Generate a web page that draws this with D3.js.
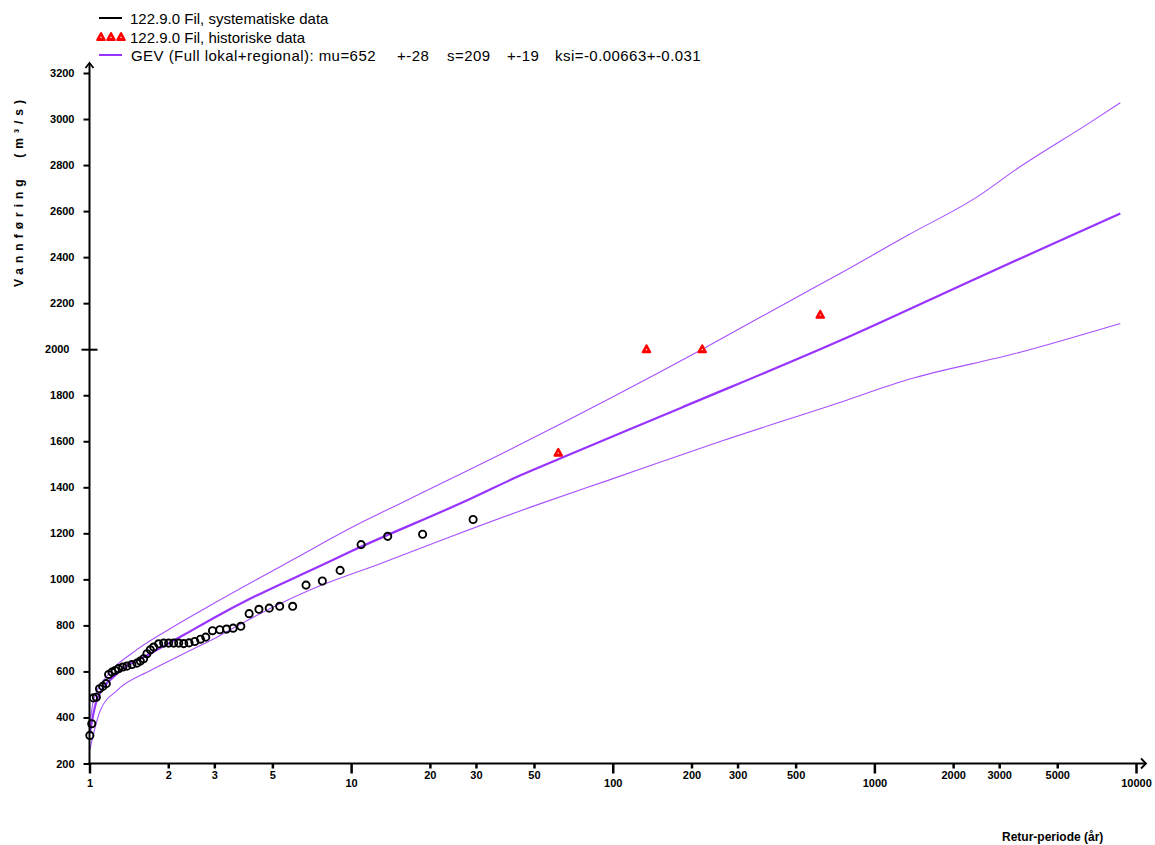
<!DOCTYPE html>
<html><head><meta charset="utf-8">
<script src="https://cdn.jsdelivr.net/npm/d3@7"></script>
<style>
html,body{margin:0;padding:0;background:#fff;}
svg{display:block;}
text{font-family:"Liberation Sans",Arial,Helvetica,sans-serif;}
.tickl{font-size:11px;font-weight:bold;fill:#000;}
.leg{font-size:15px;fill:#000;}
.ttl{font-size:12px;font-weight:bold;fill:#000;}
</style></head><body>
<svg id="chart" width="1155" height="845"></svg>
<script>
// ---- data ----
const xTickValues = [1,2,3,5,10,20,30,50,100,200,300,500,1000,2000,3000,5000,10000];
const xMajorTicks = [1,10,100,1000,10000];
const yTickValues = [200,400,600,800,1000,1200,1400,1600,1800,2000,2200,2400,2600,2800,3000,3200];

// GEV fitted curve (return period T, discharge Q)
const gevT = [1.002,1.066,1.272,1.709,2.29,3.07,4.0,7.6,10,28.6,44.4,61.9,182,748,2500,8710];
const gevQ = [329,474,590,677,758,840,909,1058,1122,1350,1452,1522,1745,2040,2312,2590];

// upper confidence band
const upperT = [1.002,1.036,1.2,1.474,1.98,2.98,4.48,6.0,10,16.35,44.4,220,481,748,1346,2496,3451,6594,8710];
const upperQ = [360,474,597,684,778,895,1007,1086,1224,1344,1587,2000,2213,2332,2496,2665,2778,2981,3071];

// lower confidence band
const lowerT = [1.002,1.099,1.272,1.709,2.29,3.07,4.12,7.17,12.9,23.3,53.0,95.9,259,748,1346,3451,8710];
const lowerQ = [257,430,517,604,677,749,829,960,1068,1180,1329,1430,1600,1771,1868,1981,2112];

// systematic data (plotting positions)
const sysT = [1.003,1.02,1.035,1.062,1.092,1.124,1.159,1.183,1.218,1.254,1.291,1.341,1.390,1.452,1.518,1.564,1.610,1.658,1.708,1.759,1.838,1.921,2.007,2.098,2.193,2.292,2.402,2.526,2.656,2.782,2.952,3.148,3.341,3.540,3.788,4.076,4.442,4.864,5.332,5.978,6.724,7.763,9.077,10.92,13.80,18.76,29.26];
const sysQ = [322,373,485,488,525,535,547,587,597,604,612,619,623,630,636,645,655,677,694,706,720,723,723,723,723,721,724,730,740,749,777,781,784,788,796,851,870,875,883,883,975,993,1039,1151,1187,1196,1260];

// historical data
const histT = [61.9,134.6,219.8,621];
const histQ = [1550,2000,2000,2150];

const legendLabels = [
  ["122.9.0 Fil, systematiske data"],
  ["122.9.0 Fil, historiske data"],
  ["GEV (Full lokal+regional): mu=652", "+-28", "s=209", "+-19", "ksi=-0.00663+-0.031"]
];
const legendGevOffsets = [1, 267, 317, 377, 425];
const xTitle = "Retur-periode (år)";
const yTitle = "Vannføring  (m³/s)";

// ---- drawing ----
const svg = d3.select("#chart");
const x = d3.scaleLog().domain([1, 10000]).range([89.5, 1136]);
const y = d3.scaleLinear().domain([200, 3200]).range([763.5, 73]);
const purple = "#9933ff";

// curves
const zip = (a, b) => a.map((t, i) => [t, b[i]]);
const line = d3.line().x(d => x(d[0])).y(d => y(d[1])).curve(d3.curveMonotoneX);
svg.append("path").datum(zip(upperT, upperQ)).attr("d", line)
  .attr("fill", "none").attr("stroke", purple).attr("stroke-width", 1.1).attr("stroke-opacity", 0.85);
svg.append("path").datum(zip(lowerT, lowerQ)).attr("d", line)
  .attr("fill", "none").attr("stroke", purple).attr("stroke-width", 1.1).attr("stroke-opacity", 0.85);
svg.append("path").datum(zip(gevT, gevQ)).attr("d", line)
  .attr("fill", "none").attr("stroke", purple).attr("stroke-width", 2.2);

// systematic points
svg.append("g").selectAll("circle").data(zip(sysT, sysQ)).join("circle")
  .attr("cx", d => x(d[0])).attr("cy", d => y(d[1])).attr("r", 3.6)
  .attr("fill", "none").attr("stroke", "#000").attr("stroke-width", 1.9);

// historical markers
const histMarker = "M0,-4 L3.8,3 L-3.8,3 Z";
function drawHist(g, cx, cy) {
  g.append("path").attr("d", histMarker).attr("transform", `translate(${cx},${cy})`)
    .attr("fill", "#ff0000").attr("stroke", "#ff0000").attr("stroke-width", 2).attr("stroke-linejoin", "round");
  g.append("rect").attr("x", cx - 0.6).attr("y", cy - 0.2).attr("width", 1.2).attr("height", 1.2).attr("fill", "#fff");
}
const hg = svg.append("g");
zip(histT, histQ).forEach(d => drawHist(hg, x(d[0]), y(d[1])));

// x axis
const xAxis = d3.axisBottom(x).tickValues(xTickValues).tickFormat(d3.format("d"))
  .tickSizeInner(5).tickSizeOuter(0).tickPadding(3);
const gx = svg.append("g").attr("transform", `translate(0,${y(200)})`).call(xAxis)
  .attr("font-size", null).attr("font-family", null);
gx.select(".domain").remove();
gx.selectAll(".tick line").attr("stroke", "#000").attr("stroke-width", 2.5)
  .attr("y2", d => xMajorTicks.includes(d) ? 10 : 5);
gx.selectAll(".tick text").attr("class", "tickl")
  .attr("y", d => xMajorTicks.includes(d) ? 16 : 8);

// y axis
const yAxis = d3.axisLeft(y).tickValues(yTickValues).tickFormat(d3.format("d"))
  .tickSizeInner(6).tickSizeOuter(0).tickPadding(9);
const gy = svg.append("g").attr("transform", `translate(${x(1)},0)`).call(yAxis)
  .attr("font-size", null).attr("font-family", null);
gy.select(".domain").remove();
gy.selectAll(".tick line").attr("stroke", "#000").attr("stroke-width", 2)
  .attr("x2", d => d === 2000 ? -8 : -6).attr("x1", d => d === 2000 ? 8 : 0);
gy.selectAll(".tick text").attr("class", "tickl")
  .attr("x", d => d === 2000 ? -20 : -15);

// axis lines with arrows
const x0 = x(1), yb = y(200);
svg.append("line").attr("x1", x0).attr("x2", x0).attr("y1", yb + 1).attr("y2", y(3200) - 10)
  .attr("stroke", "#000").attr("stroke-width", 2);
svg.append("path").attr("d", `M${x0 - 4},${y(3200) - 5} L${x0},${y(3200) - 10} L${x0 + 4},${y(3200) - 5}`)
  .attr("fill", "none").attr("stroke", "#000").attr("stroke-width", 1.8);
const xe = x(10000) + 10;
svg.append("line").attr("x1", x0 - 1).attr("x2", xe).attr("y1", yb).attr("y2", yb)
  .attr("stroke", "#000").attr("stroke-width", 2);
svg.append("path").attr("d", `M${xe - 5},${yb - 5} L${xe},${yb} L${xe - 5},${yb + 5}`)
  .attr("fill", "none").attr("stroke", "#000").attr("stroke-width", 1.8);

// titles
svg.append("text").attr("class", "ttl").attr("x", 1002).attr("y", 841).text(xTitle);
svg.append("text").attr("class", "ttl").attr("transform", "translate(23,191) rotate(-90)")
  .attr("text-anchor", "middle").attr("xml:space", "preserve")
  .style("letter-spacing", "5px").style("white-space", "pre").text(yTitle);

// legend
const lg = svg.append("g");
const legY = [18, 37, 55];
lg.append("line").attr("x1", 99).attr("x2", 122).attr("y1", legY[0]).attr("y2", legY[0])
  .attr("stroke", "#000").attr("stroke-width", 2);
[101, 111, 121].forEach(cx => drawHist(lg, cx, legY[1]));
lg.append("line").attr("x1", 99).attr("x2", 122).attr("y1", legY[2]).attr("y2", legY[2])
  .attr("stroke", purple).attr("stroke-width", 2);
legendLabels.forEach((parts, i) => {
  const t = lg.append("text").attr("class", "leg").attr("y", legY[i] + 5.5);
  if (parts.length > 1) t.style("letter-spacing", "0.45px");
  parts.forEach((p, j) => {
    t.append("tspan").attr("x", 130 + (parts.length > 1 ? legendGevOffsets[j] : 0)).text(p);
  });
});
</script>
</body></html>
